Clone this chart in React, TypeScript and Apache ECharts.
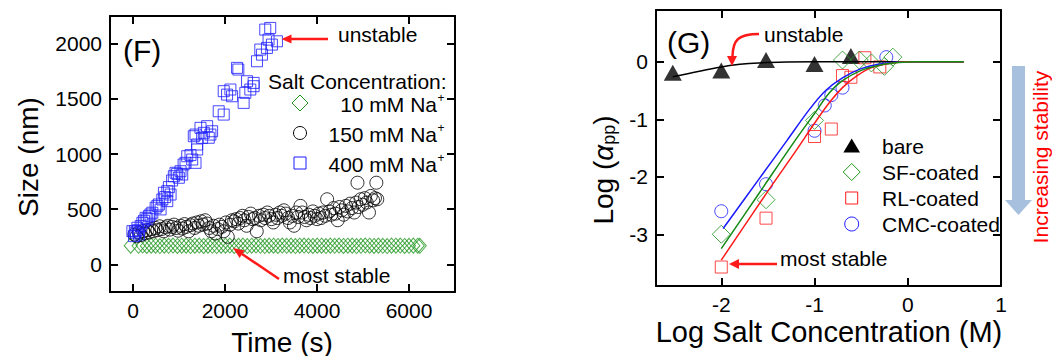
import React, { useEffect, useRef } from "react";
import * as echarts from "echarts";

const FONT = "'Liberation Sans', Arial, Helvetica, sans-serif";
const GREEN = "#1e961e";
const RED = "#ff1a1a";
const BLUE = "#1a1aff";

// ---------- Panel (F): size vs time ----------
const na10: [number, number][] = [
  [-50, 170], [120, 168], [210, 171], [300, 167], [395, 170], [490, 169], [585, 166], [680, 170], [775, 168],
  [870, 171], [965, 167], [1060, 169], [1155, 170], [1250, 166], [1345, 169], [1440, 171], [1535, 167],
  [1630, 170], [1725, 168], [1820, 166], [1915, 170], [2010, 169], [2105, 171], [2200, 167], [2295, 168],
  [2390, 170], [2485, 166], [2580, 169], [2675, 171], [2770, 168], [2865, 166], [2960, 170], [3055, 169],
  [3150, 167], [3245, 171], [3340, 168], [3435, 170], [3530, 166], [3625, 169], [3720, 171], [3815, 168],
  [3910, 167], [4005, 170], [4100, 169], [4195, 166], [4290, 170], [4385, 168], [4480, 171], [4575, 167],
  [4670, 169], [4765, 170], [4860, 166], [4955, 168], [5050, 171], [5145, 169], [5240, 167], [5335, 170],
  [5430, 168], [5525, 166], [5620, 170], [5715, 169], [5810, 171], [5905, 167], [6000, 168], [6095, 170],
  [6190, 169], [6235, 168],
];

const na150: [number, number][] = [
  [30, 270], [80, 255], [130, 290], [170, 265], [220, 300], [260, 280], [310, 310], [350, 290], [400, 320],
  [440, 300], [490, 330], [530, 310], [580, 345], [620, 320], [670, 300], [710, 335], [760, 350], [800, 315],
  [850, 340], [890, 360], [940, 330], [980, 305], [1030, 350], [1070, 325], [1120, 365], [1160, 340],
  [1210, 300], [1250, 355], [1300, 370], [1340, 330], [1390, 380], [1430, 350], [1480, 390], [1520, 360],
  [1570, 400], [1610, 370], [1660, 330], [1700, 300], [1750, 350], [1790, 280], [1840, 320], [1880, 360],
  [1930, 340], [1970, 300], [2020, 380], [2060, 250], [2110, 360], [2150, 400], [2200, 390], [2240, 410],
  [2290, 370], [2330, 420], [2380, 440], [2420, 400], [2470, 350], [2510, 430], [2560, 460], [2600, 410],
  [2650, 420], [2690, 300], [2740, 440], [2780, 400], [2830, 450], [2870, 420], [2920, 470], [2960, 440],
  [3010, 410], [3050, 380], [3100, 450], [3140, 420], [3190, 470], [3230, 440], [3280, 490], [3320, 460],
  [3370, 420], [3410, 380], [3460, 440], [3500, 350], [3550, 470], [3590, 430], [3640, 530], [3680, 470],
  [3730, 430], [3770, 400], [3820, 450], [3860, 420], [3910, 480], [3950, 440], [4000, 410], [4040, 460],
  [4090, 420], [4130, 470], [4180, 440], [4220, 590], [4270, 480], [4310, 450], [4360, 510], [4400, 460],
  [4450, 400], [4490, 520], [4540, 490], [4580, 450], [4630, 530], [4670, 480], [4720, 550], [4760, 510],
  [4810, 470], [4850, 560], [4880, 740], [4900, 520], [4950, 590], [4990, 540], [5040, 600], [5080, 560],
  [5130, 470], [5170, 620], [5220, 580], [5260, 600], [5290, 740], [5310, 590],
];

const na400: [number, number][] = [
  [-13, 301], [22, 256], [40, 300], [59, 287], [95, 332], [110, 310], [130, 271], [167, 347], [204, 377],
  [240, 395], [275, 422], [310, 410], [347, 437], [380, 452], [420, 468], [492, 513], [530, 530], [563, 543],
  [600, 498], [637, 588], [672, 649], [700, 610], [745, 663], [745, 573], [780, 700], [817, 633], [850, 760],
  [888, 799], [925, 830], [960, 820], [997, 785], [1033, 844], [1070, 814], [1100, 905], [1142, 920],
  [1179, 980], [1250, 990], [1287, 950], [1322, 1161], [1359, 920], [1359, 1176], [1395, 1086], [1395, 1041],
  [1467, 1237], [1503, 1146], [1539, 1192], [1612, 1252], [1647, 1147], [1683, 1176], [1720, 1206],
  [1863, 1387], [1972, 1357], [1972, 1569], [2045, 1538], [2117, 1584], [2154, 1523], [2262, 1780],
  [2290, 1765], [2405, 1463], [2442, 1554], [2479, 1659], [2550, 1584], [2622, 1644], [2622, 1614],
  [2695, 1840], [2767, 1946], [2803, 1900], [2875, 2127], [2912, 1961], [2947, 2036], [2983, 2142],
  [3020, 1991], [3129, 2021],
];

// ---------- Panel (G): log attachment efficiency vs log salt ----------
const bare: [number, number][] = [[-2.52, -0.19], [-2.0, -0.15], [-1.52, 0.03], [-1.0, -0.04], [-0.61, 0.1]];
const sfCoated: [number, number][] = [
  [-2.0, -3.0], [-1.52, -2.4], [-1.0, -1.02], [-0.7, 0.03], [-0.52, 0.03], [-0.39, -0.02], [-0.25, -0.08], [-0.16, 0.08],
];
const rlCoated: [number, number][] = [
  [-2.0, -3.57], [-1.52, -2.72], [-1.0, -1.3], [-0.82, -1.17], [-0.7, -0.24], [-0.61, -0.27], [-0.46, 0.07], [-0.3, -0.09],
];
const cmcCoated: [number, number][] = [
  [-2.0, -2.6], [-1.52, -2.13], [-1.0, -1.2], [-0.89, -0.76], [-0.82, -0.58], [-0.7, -0.45], [-0.23, 0.08],
];

const bareFit: [number, number][] = [[-2.52, -0.26], [-2.0, -0.09], [-1.8, -0.045], [-1.6, -0.02], [-1.3, -0.005], [-1.0, 0], [0.6, 0]];
const cmcFit: [number, number][] = [
  [-1.98, -2.9], [-1.6, -2.05], [-1.3, -1.38], [-1.05, -0.82], [-0.88, -0.5], [-0.7, -0.28], [-0.5, -0.12], [-0.3, -0.04], [0, 0], [0.6, 0],
];
const rlFit: [number, number][] = [
  [-2.0, -3.45], [-1.5, -2.25], [-1.2, -1.55], [-1.0, -1.07], [-0.85, -0.73], [-0.7, -0.45], [-0.55, -0.25], [-0.4, -0.11], [-0.2, -0.03], [0, 0], [0.6, 0],
];
const sfFit: [number, number][] = [
  [-2.0, -3.25], [-1.6, -2.3], [-1.2, -1.35], [-1.0, -0.9], [-0.84, -0.54], [-0.7, -0.33], [-0.5, -0.15], [-0.3, -0.06], [-0.1, -0.015], [0.1, 0], [0.6, 0],
];

const legendF = ["10 mM Na", "150 mM Na", "400 mM Na"];
const legendG = ["bare", "SF-coated", "RL-coated", "CMC-coated"];

const labelStyle = { fontSize: 21, fontFamily: FONT, color: "#000" };

function axis(extra: any, showLabel: boolean, showMax = false) {
  return {
    type: "value",
    splitLine: { show: false },
    axisLine: { show: true, onZero: false, lineStyle: { color: "#000", width: 2 } },
    axisTick: { show: true, inside: true, length: 8, lineStyle: { color: "#000", width: 2 } },
    axisLabel: showLabel
      ? {
          show: true, showMinLabel: false, showMaxLabel: showMax, margin: 8, ...labelStyle,
          formatter: (v: number) => String(v),
        }
      : { show: false },
    ...extra,
  };
}

function txt(text: string, x: number, y: number, size: number, extra: any = {}, fill = "#000") {
  return {
    type: "text",
    x,
    y,
    z: 100,
    ...extra.el,
    style: { text, fontSize: size, fontFamily: FONT, fill, align: "left", verticalAlign: "middle", ...extra.style },
  };
}

function arrowHead(tip: [number, number], dir: [number, number], len: number, half: number, fill: string) {
  const l = Math.hypot(dir[0], dir[1]);
  const ux = dir[0] / l, uy = dir[1] / l;
  const bx = tip[0] - ux * len, by = tip[1] - uy * len;
  const px = -uy, py = ux;
  return {
    type: "polygon",
    z: 100,
    shape: { points: [tip, [bx + px * half, by + py * half], [bx - px * half, by - py * half]] },
    style: { fill },
  };
}

export default function App() {
  const ref = useRef<HTMLDivElement>(null);
  useEffect(() => {
    document.body.style.margin = "0";
    const chart = echarts.init(ref.current!, undefined, { renderer: "svg" });
    const lineCommon = { type: "line", xAxisIndex: 2, yAxisIndex: 2, smooth: 0.35, showSymbol: false, symbol: "none" };
    const option: any = {
      animation: false,
      backgroundColor: "#fff",
      grid: [
        { left: 110, top: 16, width: 345, height: 276 },
        { left: 656, top: 10, width: 345, height: 276 },
      ],
      xAxis: [
        axis({ gridIndex: 0, position: "bottom", min: -500, max: 7000, minInterval: 2000, maxInterval: 2000 }, true),
        axis({ gridIndex: 0, position: "top", min: -500, max: 7000, minInterval: 2000, maxInterval: 2000 }, false),
        axis({ gridIndex: 1, position: "bottom", min: -2.7, max: 1, minInterval: 1, maxInterval: 1 }, true, true),
        axis({ gridIndex: 1, position: "top", min: -2.7, max: 1, minInterval: 1, maxInterval: 1 }, false),
      ],
      yAxis: [
        axis({ gridIndex: 0, position: "left", min: -250, max: 2250, minInterval: 500, maxInterval: 500 }, true),
        axis({ gridIndex: 0, position: "right", min: -250, max: 2250, minInterval: 500, maxInterval: 500 }, false),
        axis({ gridIndex: 1, position: "left", min: -3.9, max: 0.9, minInterval: 1, maxInterval: 1 }, true),
        axis({ gridIndex: 1, position: "right", min: -3.9, max: 0.9, minInterval: 1, maxInterval: 1 }, false),
      ],
      series: [
        {
          type: "scatter", xAxisIndex: 0, yAxisIndex: 0, data: na10, symbol: "diamond", symbolSize: [13, 15],
          itemStyle: { color: "transparent", borderColor: GREEN, borderWidth: 1 },
        },
        {
          type: "scatter", xAxisIndex: 0, yAxisIndex: 0, data: na150, symbol: "circle", symbolSize: 13,
          itemStyle: { color: "transparent", borderColor: "#000", borderWidth: 1 },
        },
        {
          type: "scatter", xAxisIndex: 0, yAxisIndex: 0, data: na400, symbol: "rect", symbolSize: 11,
          itemStyle: { color: "transparent", borderColor: BLUE, borderWidth: 1 },
        },
        { ...lineCommon, data: bareFit, lineStyle: { color: "#000", width: 1.5 } },
        { ...lineCommon, data: cmcFit, lineStyle: { color: BLUE, width: 1.5 } },
        { ...lineCommon, data: rlFit, lineStyle: { color: RED, width: 1.5 } },
        { ...lineCommon, data: sfFit, lineStyle: { color: "#138a13", width: 1.5 } },
        {
          type: "scatter", xAxisIndex: 2, yAxisIndex: 2, data: bare, symbol: "triangle", symbolSize: [18, 16],
          itemStyle: { color: "#000" },
        },
        {
          type: "scatter", xAxisIndex: 2, yAxisIndex: 2, data: cmcCoated, symbol: "circle", symbolSize: 13,
          itemStyle: { color: "transparent", borderColor: BLUE, borderWidth: 1 },
        },
        {
          type: "scatter", xAxisIndex: 2, yAxisIndex: 2, data: rlCoated, symbol: "rect", symbolSize: 12,
          itemStyle: { color: "transparent", borderColor: RED, borderWidth: 1 },
        },
        {
          type: "scatter", xAxisIndex: 2, yAxisIndex: 2, data: sfCoated, symbol: "diamond", symbolSize: 18,
          itemStyle: { color: "transparent", borderColor: GREEN, borderWidth: 1 },
        },
      ],
      graphic: [
        // ---- panel F ----
        txt("(F)", 123, 50, 30),
        txt("Size (nm)", 28, 157, 28, { el: { rotation: Math.PI / 2 }, style: { align: "center" } }),
        txt("Time (s)", 282, 342, 28, { style: { align: "center" } }),
        txt("unstable", 338, 34, 21),
        { type: "line", z: 100, shape: { x1: 328, y1: 39, x2: 290, y2: 39 }, style: { stroke: RED, lineWidth: 2.5 } },
        arrowHead([281.5, 39], [-1, 0], 10, 4.5, RED),
        txt("most stable", 283, 275, 21),
        { type: "line", z: 100, shape: { x1: 279, y1: 279, x2: 242, y2: 254 }, style: { stroke: RED, lineWidth: 2.5 } },
        arrowHead([233, 248], [-46, -31], 11, 4.5, RED),
        txt("Salt Concentration:", 268, 81, 21),
        { type: "polygon", z: 100, shape: { points: [[300, 95], [308, 103], [300, 111], [292, 103]] }, style: { fill: "none", stroke: GREEN, lineWidth: 1 } },
        { type: "circle", z: 100, shape: { cx: 300, cy: 133, r: 6.5 }, style: { fill: "none", stroke: "#000", lineWidth: 1 } },
        { type: "rect", z: 100, shape: { x: 294, y: 157, width: 12, height: 12 }, style: { fill: "none", stroke: BLUE, lineWidth: 1 } },
        ...legendF.map((t, i) => txt(t, 437, 104 + i * 30, 21, { style: { align: "right" } })),
        ...legendF.map((_, i) => txt("+", 437.5, 97.5 + i * 30, 12)),
        // ---- panel G ----
        txt("(G)", 667, 42, 30),
        txt("Log ({a|α}{sub|pp})", 603, 170, 28, {
          el: { rotation: Math.PI / 2 },
          style: {
            align: "center",
            rich: {
              a: { fontSize: 28, fontFamily: FONT, fontStyle: "italic" },
              sub: { fontSize: 18, fontFamily: FONT, verticalAlign: "bottom", padding: [12, 0, 0, 0] },
            },
          },
        }),
        txt("Log Salt Concentration (M)", 829, 332, 29, { style: { align: "center" } }),
        txt("unstable", 764, 34, 21),
        {
          type: "bezierCurve", z: 100,
          shape: { x1: 759, y1: 34, x2: 732.5, y2: 56, cpx1: 738, cpy1: 34, cpx2: 733, cpy2: 40 },
          style: { stroke: RED, lineWidth: 2.5, fill: "none" },
        },
        arrowHead([732, 66], [0, 1], 10, 5, RED),
        txt("most stable", 780, 258, 21),
        { type: "line", z: 100, shape: { x1: 777, y1: 264, x2: 738, y2: 264 }, style: { stroke: RED, lineWidth: 2.5 } },
        arrowHead([729, 264], [-1, 0], 10, 5, RED),
        { type: "polygon", z: 100, shape: { points: [[851.7, 138.5], [860, 152.5], [843.4, 152.5]] }, style: { fill: "#000" } },
        { type: "polygon", z: 100, shape: { points: [[851.7, 163.5], [860.2, 172], [851.7, 180.5], [843.2, 172]] }, style: { fill: "none", stroke: GREEN, lineWidth: 1 } },
        { type: "rect", z: 100, shape: { x: 845.7, y: 192, width: 12, height: 12 }, style: { fill: "none", stroke: RED, lineWidth: 1 } },
        { type: "circle", z: 100, shape: { cx: 851.7, cy: 224, r: 7 }, style: { fill: "none", stroke: BLUE, lineWidth: 1 } },
        ...legendG.map((t, i) => txt(t, 882, 146 + i * 26, 21)),
        { type: "rect", z: 100, shape: { x: 1012, y: 66, width: 13, height: 135 }, style: { fill: "#a7c0de" } },
        { type: "polygon", z: 100, shape: { points: [[1005, 200], [1032, 200], [1018.5, 215]] }, style: { fill: "#a7c0de" } },
        txt("Increasing stability", 1040, 157, 21, { el: { rotation: Math.PI / 2 }, style: { align: "center" } }, "#ff0000"),
      ],
    };
    chart.setOption(option);
    return () => chart.dispose();
  }, []);
  return <div ref={ref} style={{ width: 1052, height: 356 }} />;
}
